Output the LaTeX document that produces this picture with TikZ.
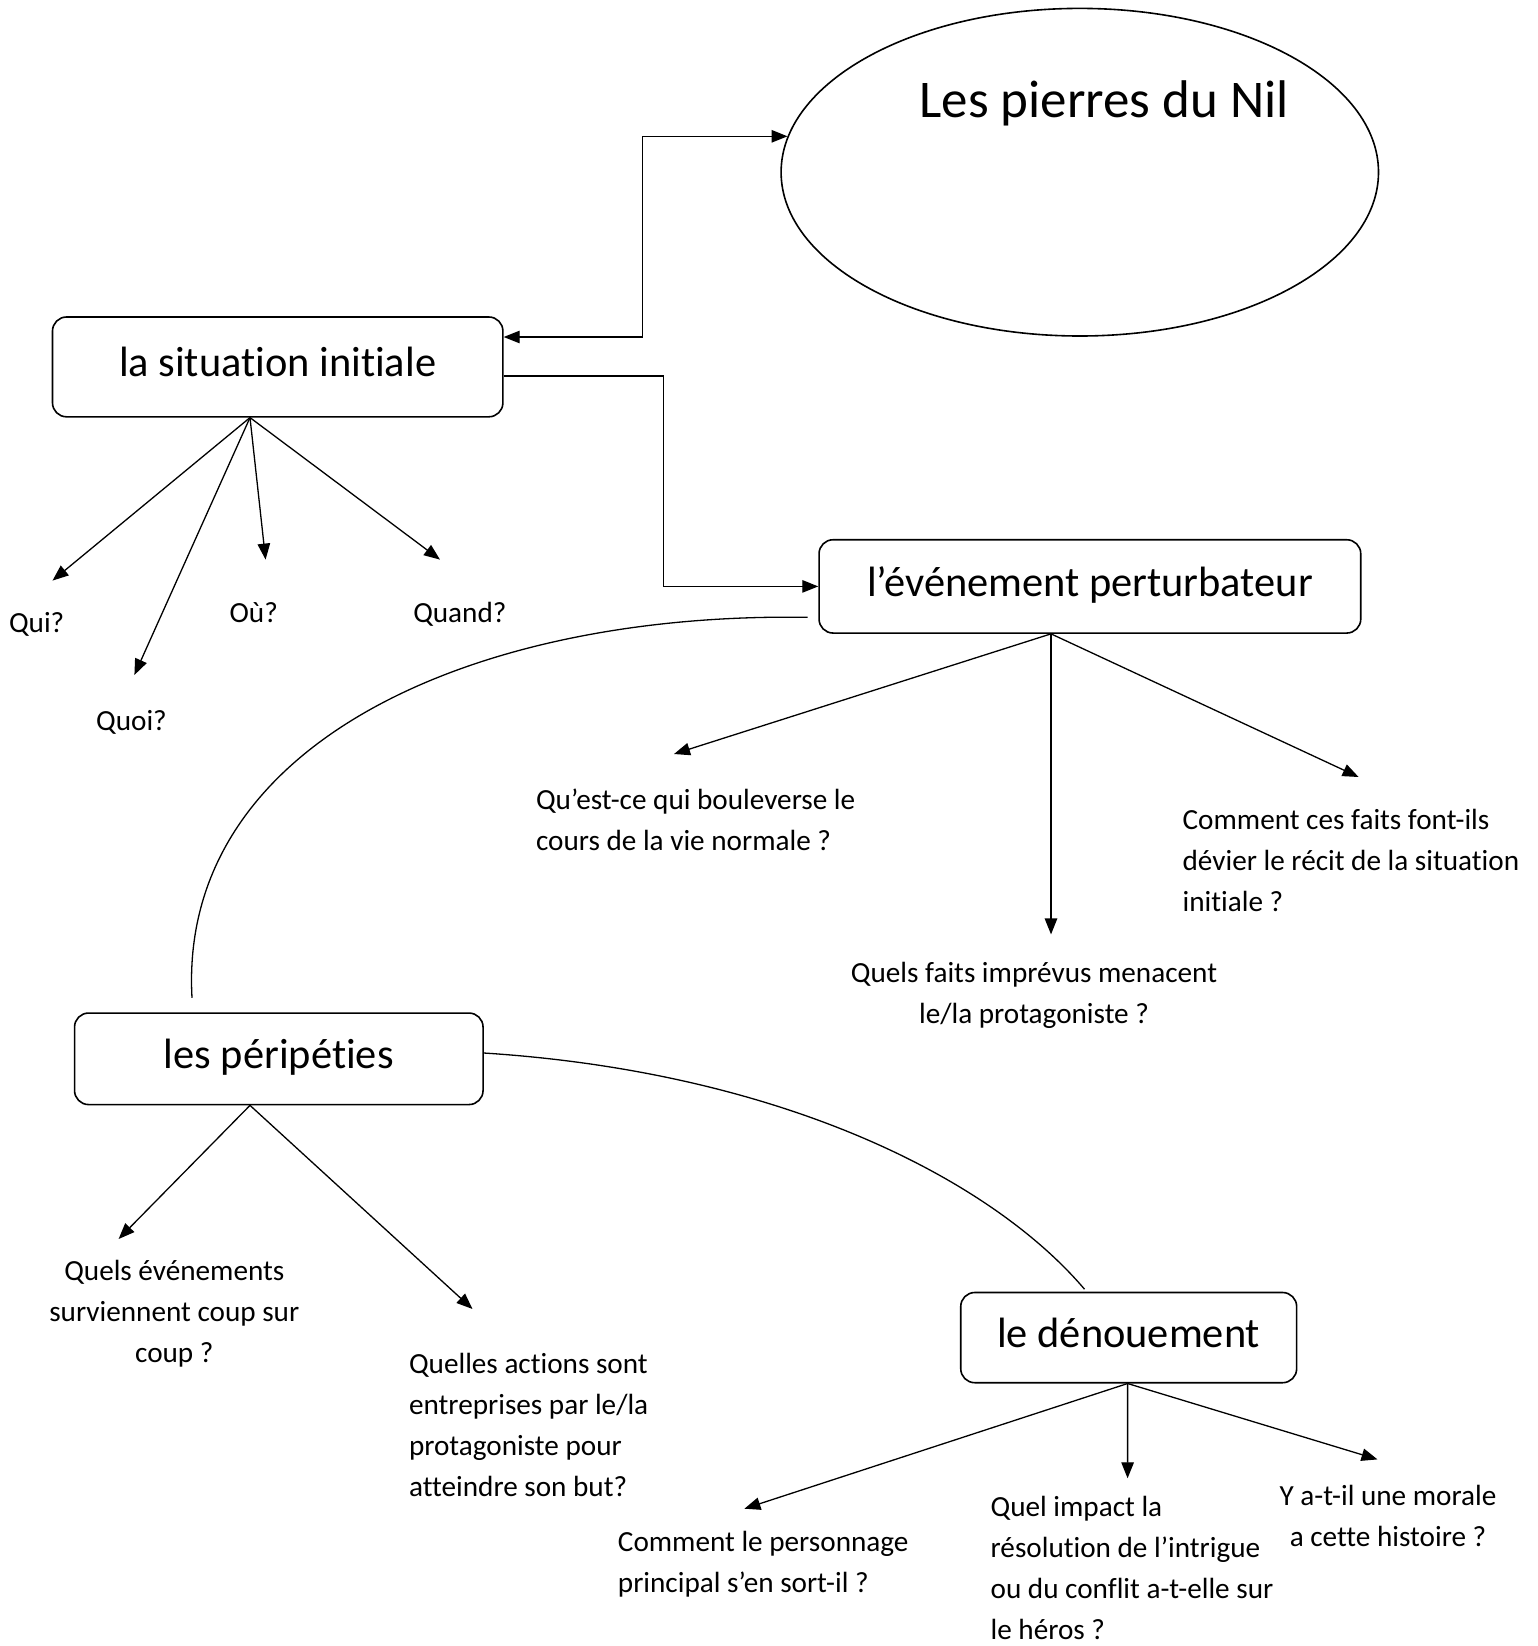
\documentclass[tikz,border=0pt]{standalone}
\usepackage{fontspec}
\setmainfont{Carlito}[Ligatures=NoCommon]
\usetikzlibrary{arrows.meta,shapes.geometric}
\begin{document}
\begin{tikzpicture}[x=1pt,y=-1pt,
  line width=1.3pt,
  box/.style={draw, line width=1.6pt, rounded corners=14pt, inner sep=0pt, text height=30pt, text depth=10pt, font=\fontsize{42.4}{51}\selectfont},
  q/.style={font=\fontsize{29.2}{41}\selectfont, inner sep=0pt},
  arr/.style={-{Triangle[length=16pt,width=12.5pt]}},
  dblarr/.style={{Triangle[length=16pt,width=12.5pt]}-{Triangle[length=16pt,width=12.5pt]}},
]
\useasboundingbox (0,0) rectangle (1538,1646);
\fill[white] (0,0) rectangle (1538,1646);

% title ellipse
\node[draw, line width=1.6pt, ellipse, minimum width=597.4pt, minimum height=327.6pt, inner sep=0pt] (nil) at (1079.8,172.2) {};
\node[font=\fontsize{53}{64}\selectfont, inner sep=0pt] (titre) at (1104,103) {Les pierres du Nil};

% boxes
\node[box, minimum width=450.4pt, minimum height=99.8pt] (sit) at (277.7,366.9) {la situation initiale};
\node[box, minimum width=541.7pt, minimum height=93.3pt] (ev) at (1089.9,586.4) {l’événement perturbateur};
\node[box, minimum width=408.5pt, minimum height=91.5pt] (per) at (278.8,1058.8) {les péripéties};
\node[box, minimum width=335.9pt, minimum height=90.2pt] (den) at (1128.7,1337.6) {le dénouement};

% question labels
\node[q, anchor=base west] (qui) at (8.4,632.6) {Qui?};
\node[q, anchor=base west] (quoi) at (95.5,730) {Quoi?};
\node[q, anchor=base west] (ou) at (229,622) {Où?};
\node[q, anchor=base west] (quand) at (412.6,622) {Quand?};

\node[q, anchor=base west, align=left] (bouleverse) at (535.4,850) {Qu’est-ce qui bouleverse le\\cours de la vie normale ?};
\node[q, anchor=base, align=center] (imprevus) at (1034,1023) {Quels faits imprévus menacent\\le/la protagoniste ?};
\node[q, anchor=base west, align=left] (devier) at (1182,911) {Comment ces faits font-ils\\dévier le récit de la situation\\initiale ?};

\node[q, anchor=base, align=center] (coup) at (174.3,1362) {Quels événements\\surviennent coup sur\\coup ?};
\node[q, anchor=base west, align=left] (actions) at (408.4,1496) {Quelles actions sont\\entreprises par le/la\\protagoniste pour\\atteindre son but?};

\node[q, anchor=base west, align=left] (sortil) at (617.3,1592) {Comment le personnage\\principal s’en sort-il ?};
\node[q, anchor=base west, align=left] (impact) at (990,1639) {Quel impact la\\résolution de l’intrigue\\ou du conflit a-t-elle sur\\le héros ?};
\node[q, anchor=base, align=center] (morale) at (1388,1546) {Y a-t-il une morale\\a cette histoire ?};

% arrow end points
\coordinate (tqui) at (52.5,580.6);
\coordinate (tquoi) at (134.4,675);
\coordinate (tou) at (265.6,559.6);
\coordinate (tquand) at (440,559.6);
\coordinate (tbouleverse) at (674,754);
\coordinate (timprevus) at (1051,934.4);
\coordinate (tdevier) at (1358.6,777);
\coordinate (tcoup) at (118.6,1239);
\coordinate (tactions) at (472.5,1309);
\coordinate (tsortil) at (744.4,1508.7);
\coordinate (timpact) at (1127.6,1478.3);
\coordinate (tmorale) at (1377.5,1459.4);

% elbow connectors
\draw[dblarr] ([yshift=29.9pt]sit.east) -- ++(138.5,0) |- (nil.173.4);
\draw[arr] ([yshift=-9pt]sit.east) -- ++(159.6,0) |- (ev.west);

% fans
\draw[arr] ([xshift=-27.7pt]sit.south) -- (tqui);
\draw[arr] ([xshift=-27.7pt]sit.south) -- (tquoi);
\draw[arr] ([xshift=-27.7pt]sit.south) -- (tou);
\draw[arr] ([xshift=-27.7pt]sit.south) -- (tquand);

\draw[arr] ([xshift=-38.9pt]ev.south) -- (tbouleverse);
\draw[arr] ([xshift=-38.9pt]ev.south) -- (timprevus);
\draw[arr] ([xshift=-38.9pt]ev.south) -- (tdevier);

\draw[arr] ([xshift=-28.8pt]per.south) -- (tcoup);
\draw[arr] ([xshift=-28.8pt]per.south) -- (tactions);

\draw[arr] ([xshift=-1.1pt]den.south) -- (tsortil);
\draw[arr] ([xshift=-1.1pt]den.south) -- (timpact);
\draw[arr] ([xshift=-1.1pt]den.south) -- (tmorale);

% curved links
\draw ([xshift=-10.6pt,yshift=-30.9pt]ev.west) .. controls (470,612) and (178,745) .. ([xshift=-86.8pt,yshift=14.5pt]per.north);
\draw ([yshift=5.8pt]per.east) .. controls (780,1072) and (990,1178) .. ([xshift=-44.2pt,yshift=2.5pt]den.north);
\end{tikzpicture}
\end{document}
